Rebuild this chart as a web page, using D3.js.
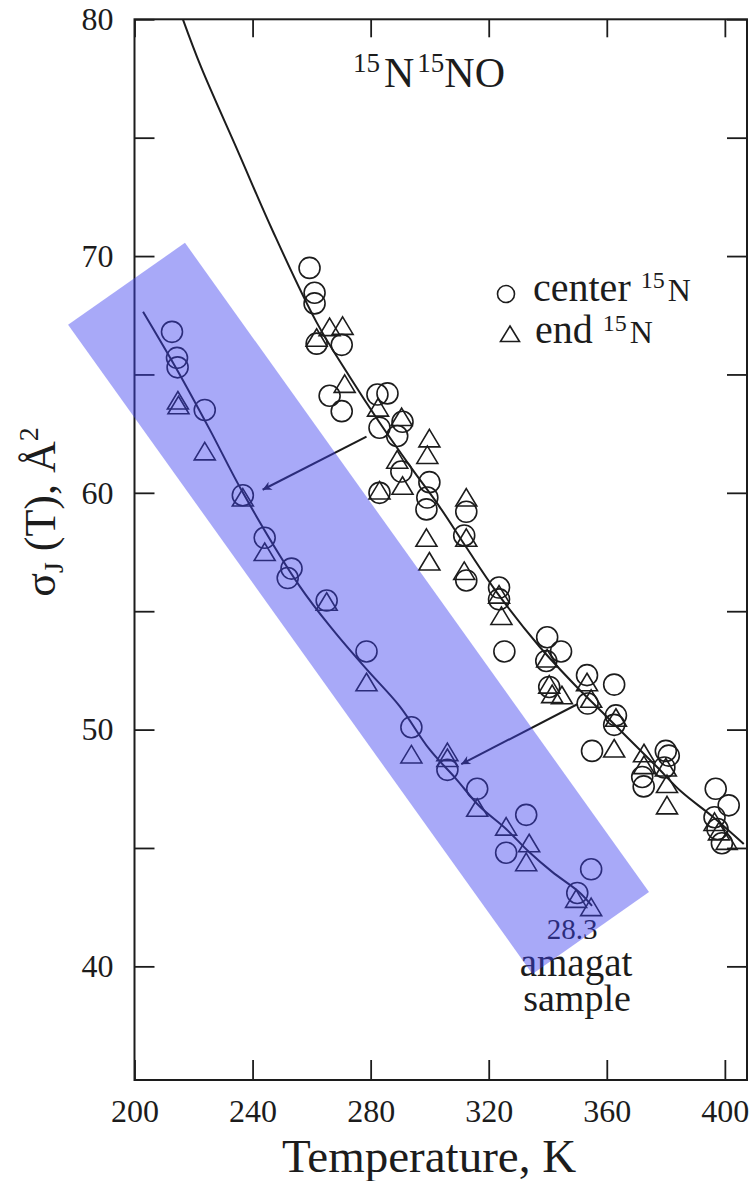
<!DOCTYPE html>
<html>
<head>
<meta charset="utf-8">
<script src="https://cdn.jsdelivr.net/npm/d3@7"></script>
<style>
body{margin:0;background:#fff}
svg{display:block}
svg text{font-family:"Liberation Serif","DejaVu Serif",serif !important;fill:#1c1c1c}
</style>
</head>
<body>
<svg></svg>
<script>
// sigma_J(T) for 15N15NO

var xTicks=[200,240,280,320,360,400];
var yTicks=[40,45,50,55,60,65,70,75,80];

// upper (unshifted) data
var upperCircles=[[259.3,69.5],[261,68.45],[261,68.0],[261.7,66.3],[270.2,66.25],[266.1,64.1],[270.2,63.45],
  [282.3,64.15],[285.7,64.2],[283,62.75],[289,62.4],[290.8,63.0],[283,60.0],[290.4,60.9],[299.9,60.45],
  [299.2,59.8],[298.9,59.3],[312.4,59.2],[311.7,58.2],[312.4,56.3],[323.5,56.0],[323.5,55.5],
  [325.3,53.3],[339.8,53.9],[344.5,53.3],[339.5,52.9],[340.5,51.8],[353.3,52.3],[353.5,51.1],
  [362.5,51.9],[363.1,50.6],[362.5,50.2],[355,49.1],[372,48.0],[372.5,47.6],[380,49.1],[381,48.9],
  [379.5,48.4],[396.9,47.5],[401.3,46.8],[396.5,46.3],[399,45.2],[397.5,45.8]];
var upperTriangles=[[261.7,66.55],[266.1,67.0],[270.5,67.05],[271.2,64.6],[282.5,63.6],[290.5,63.2],[289,61.4],
  [299.9,62.3],[299.2,61.6],[283,60.1],[290.8,60.3],[298.9,58.1],[299.9,57.1],[312.4,59.8],[312.4,58.1],
  [311.7,56.7],[323.5,55.7],[324.3,54.8],[339.8,53.0],[340.5,51.9],[341.5,51.5],[344.8,51.45],[353.3,52.0],
  [354.7,51.3],[363.1,50.5],[362.5,49.2],[372.6,49.0],[372.6,48.5],[380,48.4],[380.4,47.7],[380.4,46.8],
  [396.5,46.1],[398,45.7],[400.6,45.3]];
var upperFit=[[216.4,80],[222.5,78.0],[235.3,74.35],[246.8,71.07],[261.7,67.2],[272.9,64.9],[283,62.97],[294.2,60.98],
  [303.3,59.42],[312.4,57.7],[322.5,55.84],[337.1,53.52],[349.6,51.83],[358.4,50.74],[367.5,49.6],
  [376.7,48.46],[385.4,47.36],[395.6,46.35],[406.4,45.17]];

// 28.3 amagat sample
var lowerCircles=[[212.7,66.8],[214.4,65.7],[214.6,65.3],[223.8,63.5],[236.7,59.9],[244.1,58.1],[253.2,56.8],
  [251.9,56.4],[265.1,55.45],[278.6,53.3],[293.8,50.1],[306,48.3],[316.1,47.5],[332.7,46.4],[325.9,44.8],
  [354.7,44.1],[350,43.1]];
var lowerTriangles=[[214.7,63.9],[214.9,63.7],[223.8,61.75],[236.7,59.8],[244.1,57.5],[265.1,55.4],[278.6,52.0],
  [293.8,48.95],[306,49.05],[306,48.8],[316.1,46.7],[325.9,45.9],[333.7,45.2],[332.7,44.4],[349.6,42.85],
  [354.7,42.5]];
var lowerFit=[[202.9,67.65],[214.4,65.2],[225.5,62.67],[236.7,60.01],[256,56.05],[267.1,54.23],[278.6,52.55],
  [289.8,50.99],[299.9,49.17],[309,47.91],[316.8,46.77],[325.9,45.8],[333.7,44.83],[341.5,43.99],
  [350.6,43.14],[355,42.55]];

var arrows=[[[278.6,62.37],[243.4,60.13]],[[350,51.07],[310.7,48.54]]];
var bandCorners=[[177.5,67.1],[217.1,70.56],[374.3,43.14],[334.8,39.68]];

var width=755,height=1181;
var svg=d3.select("svg").attr("width",width).attr("height",height);

var x=d3.scaleLinear().domain([200,407.5]).range([134.5,747]);
var y=d3.scaleLinear().domain([35.2,80]).range([1080,19.3]);

var ink="#1c1c1c";

// axes, ticks pointing inward
svg.append("g").attr("transform","translate(0,"+y(35.2)+")")
  .call(d3.axisBottom(x).tickValues(xTicks).tickSizeInner(-20).tickSizeOuter(0).tickPadding(19));
svg.append("g").attr("transform","translate(0,"+y(80)+")")
  .call(d3.axisTop(x).tickValues(xTicks).tickSizeInner(-18).tickSizeOuter(0).tickFormat(""));
svg.append("g").attr("transform","translate("+x(200)+",0)")
  .call(d3.axisLeft(y).tickValues(yTicks).tickSizeInner(-20).tickSizeOuter(0).tickPadding(21)
    .tickFormat(function(d){return d%10===0?d:"";}));
svg.append("g").attr("transform","translate("+x(407.5)+",0)")
  .call(d3.axisRight(y).tickValues(yTicks).tickSizeInner(-20).tickSizeOuter(0).tickFormat(""));

svg.selectAll(".domain").remove();
svg.selectAll("g").attr("font-family",null);
svg.selectAll(".tick line").attr("stroke",ink).attr("stroke-width",1.8);
svg.selectAll(".tick text").attr("font-size",32).attr("fill",ink);

svg.append("rect")
  .attr("x",x(200)).attr("y",y(80))
  .attr("width",x(407.5)-x(200)).attr("height",y(35.2)-y(80))
  .attr("fill","none").attr("stroke",ink).attr("stroke-width",2);

// fitted curves
var line=d3.line().x(function(d){return x(d[0]);}).y(function(d){return y(d[1]);}).curve(d3.curveCatmullRom);
svg.append("path").datum(upperFit).attr("d",line).attr("fill","none").attr("stroke",ink).attr("stroke-width",2);
svg.append("path").datum(lowerFit).attr("d",line).attr("fill","none").attr("stroke",ink).attr("stroke-width",2);

// markers
var tri="M0,-9L10.5,8.5L-10.5,8.5Z";
function circles(data){
  svg.append("g").selectAll("circle").data(data).enter().append("circle")
    .attr("cx",function(d){return x(d[0]);})
    .attr("cy",function(d){return y(d[1]);})
    .attr("r",10.5)
    .attr("fill","none").attr("stroke",ink).attr("stroke-width",1.6);
}
function triangles(data){
  svg.append("g").selectAll("path").data(data).enter().append("path")
    .attr("d",tri)
    .attr("transform",function(d){return "translate("+x(d[0])+","+y(d[1])+")";})
    .attr("fill","none").attr("stroke",ink).attr("stroke-width",1.6);
}
circles(upperCircles);
triangles(upperTriangles);
circles(lowerCircles);
triangles(lowerTriangles);

// arrows
svg.append("defs").append("marker")
  .attr("id","head").attr("viewBox","0 0 10 10").attr("refX",10).attr("refY",5)
  .attr("markerWidth",9).attr("markerHeight",4.5).attr("orient","auto").attr("markerUnits","strokeWidth")
  .append("path").attr("d","M0,0L10,5L0,10L3,5Z").attr("fill",ink);
svg.append("g").selectAll("line").data(arrows).enter().append("line")
  .attr("x1",function(d){return x(d[0][0]);}).attr("y1",function(d){return y(d[0][1]);})
  .attr("x2",function(d){return x(d[1][0]);}).attr("y2",function(d){return y(d[1][1]);})
  .attr("stroke",ink).attr("stroke-width",2).attr("marker-end","url(#head)");

// title
var title=svg.append("text").attr("x",353).attr("y",87).attr("font-size",42);
title.append("tspan").text("15").attr("font-size",27).attr("dy",-15);
title.append("tspan").text("N").attr("dx",4).attr("dy",15);
title.append("tspan").text("15").attr("font-size",27).attr("dx",3).attr("dy",-15);
title.append("tspan").text("NO").attr("dy",15);

// legend
svg.append("circle").attr("cx",506).attr("cy",294).attr("r",8.5)
  .attr("fill","none").attr("stroke",ink).attr("stroke-width",1.6);
svg.append("path").attr("d","M0,-8L9.5,7.5L-9.5,7.5Z").attr("transform","translate(510,334)")
  .attr("fill","none").attr("stroke",ink).attr("stroke-width",1.6);
var l1=svg.append("text").attr("x",533).attr("y",301).attr("font-size",40);
l1.append("tspan").text("center ");
l1.append("tspan").text("15").attr("font-size",24).attr("dy",-13);
l1.append("tspan").text("N").attr("font-size",32).attr("dx",3).attr("dy",13);
var l2=svg.append("text").attr("x",535).attr("y",343).attr("font-size",40);
l2.append("tspan").text("end ");
l2.append("tspan").text("15").attr("font-size",24).attr("dy",-12);
l2.append("tspan").text("N").attr("font-size",32).attr("dx",3).attr("dy",12);

// sample note
svg.append("text").attr("x",572).attr("y",939).attr("font-size",29).attr("text-anchor","middle").text("28.3");
svg.append("text").attr("x",576).attr("y",976).attr("font-size",39).attr("text-anchor","middle").text("amagat");
svg.append("text").attr("x",577).attr("y",1011).attr("font-size",38).attr("text-anchor","middle").text("sample");

// axis titles
svg.append("text").attr("x",429).attr("y",1172).attr("font-size",47)
  .attr("text-anchor","middle").text("Temperature,  K");
var yt=svg.append("text").attr("transform","translate(55,512) rotate(-90)")
  .attr("font-size",44).attr("text-anchor","middle");
yt.append("tspan").text("\u03c3");
yt.append("tspan").text("J").attr("font-size",28).attr("dy",8);
yt.append("tspan").text(" (T), \u00c5").attr("dy",-8);
yt.append("tspan").text("2").attr("font-size",28).attr("dy",-17);

// highlight band drawn on top
svg.append("polygon")
  .attr("points",bandCorners.map(function(d){return [x(d[0]),y(d[1])].join(",");}).join(" "))
  .attr("fill","rgba(62,64,240,0.45)");
</script>
</body>
</html>
